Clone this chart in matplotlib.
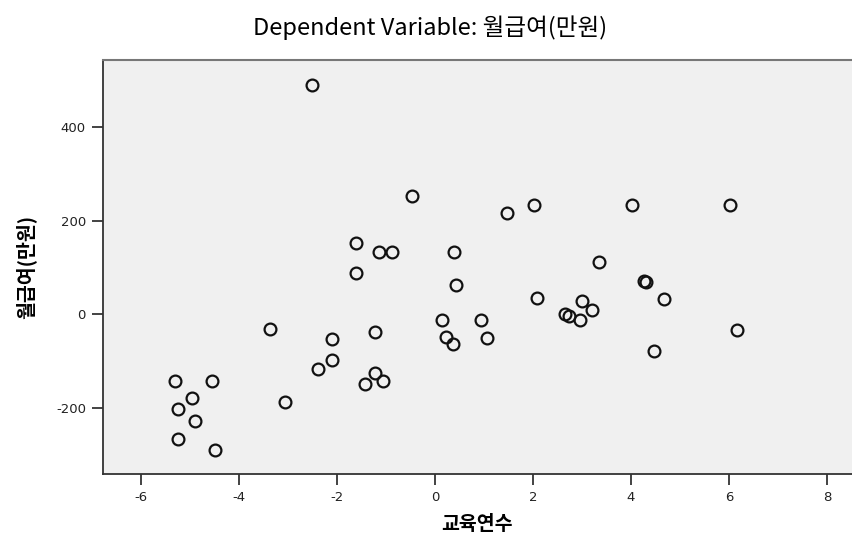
import numpy as np
import matplotlib
matplotlib.use("Agg")
import matplotlib.pyplot as plt

plt.rcParams['font.family'] = ['Noto Sans CJK KR', 'DejaVu Sans']
plt.rcParams['axes.unicode_minus'] = False

# partial residuals
edu = [-2.51, -0.46, -1.62, -1.14, -0.87, 0.39, -1.62, 1.48, 2.03, 4.02,
       6.03, 3.34, 0.42, -3.36, -2.10, -1.22, 0.15, 0.22, 0.36, -2.10,
       -2.38, -1.22, -1.42, -1.06, -5.31, -4.55, -4.96, -5.25, -4.90, -3.05,
       -5.25, -4.49, 4.27, 4.31, 2.08, 3.00, 4.67, 3.21, 2.66, 2.73,
       2.95, 0.93, 1.07, 6.17, 4.47]
wage = [491, 254, 153, 133, 133, 133, 89, 216, 234, 234,
        234, 112, 63, -32, -54, -39, -12, -48, -64, -98,
        -118, -126, -149, -144, -143, -143, -179, -202, -228, -188,
        -267, -290, 72, 68, 34, 28, 33, 9, 1, -3,
        -12, -12, -51, -34, -78]

xticks = [-6, -4, -2, 0, 2, 4, 6, 8]
yticks = [-200, 0, 200, 400]

fig = plt.figure(figsize=(8.52, 5.42), dpi=100)
ax = fig.add_axes([0.1205, 0.1255, 0.8795, 0.7638])
ax.set_facecolor('#f0f0f0')

ax.plot(edu, wage, 'o', markerfacecolor='none', markeredgecolor='#111111',
        markeredgewidth=1.6, markersize=8.5, linestyle='none')

ax.set_xlim(-6.78, 8.51)
ax.set_ylim(-342, 544)
ax.set_xticks(xticks)
ax.set_xticklabels([str(t) for t in xticks], family='DejaVu Sans')
ax.set_yticks(yticks)
ax.set_yticklabels([str(t) for t in yticks], family='DejaVu Sans')
ax.tick_params(direction='out', length=8, width=1.2, colors='#222222', labelsize=9.5, pad=4)

ax.spines['right'].set_visible(False)
ax.spines['top'].set_color('#777777')
ax.spines['top'].set_linewidth(1.5)
ax.spines['left'].set_color('#333333')
ax.spines['bottom'].set_color('#333333')
ax.spines['left'].set_linewidth(1.3)
ax.spines['bottom'].set_linewidth(1.3)

ax.set_xlabel('교육연수', fontsize=14, fontweight='bold', labelpad=8)
ax.set_ylabel('월급여(만원)', fontsize=14, fontweight='bold', labelpad=14)
fig.suptitle('Dependent Variable: 월급여(만원)', x=0.505, y=0.972, fontsize=17,
             fontweight='medium')

fig.savefig('out.png', dpi=100)
